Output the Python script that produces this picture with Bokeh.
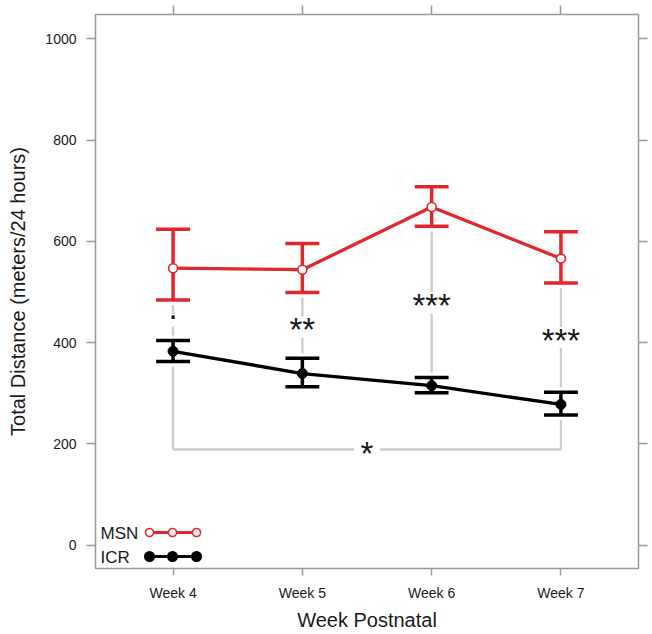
from bokeh.plotting import figure
from bokeh.models import Range1d, LinearAxis, FixedTicker, ColumnDataSource
from bokeh.core.properties import value
from bokeh.embed import file_html
from bokeh.resources import INLINE

# ---- data ----
weeks = ["Week 4", "Week 5", "Week 6", "Week 7"]
week_pos = [1, 2, 3, 4]
msn_mean = [547, 544, 668, 566]
msn_upper = [624, 596, 708, 619]
msn_lower = [484, 499, 630, 518]
icr_mean = [383, 339, 315, 278]
icr_upper = [404, 369, 331, 302]
icr_lower = [363, 313, 301, 257]
sig_labels = [".", "**", "***", "***"]
sig_y = [444, 431, 479, 410]
bracket_y = 189
bracket_label = "*"
y_ticks = [0, 200, 400, 600, 800, 1000]
series_names = ["MSN", "ICR"]

RED = "#e3262b"
BLACK = "#000000"
GRAY = "#cccccc"
FRAME = "#999999"
FONT = "Liberation Sans"
TXT = "#1a1a1a"

p = figure(width=650, height=634, x_range=Range1d(0.4, 4.6), y_range=Range1d(-46, 1048),
           output_backend="svg", toolbar_location=None,
           min_border_left=95, min_border_right=12, min_border_top=14, min_border_bottom=66)
p.xgrid.visible = False
p.ygrid.visible = False
p.outline_line_color = FRAME
p.outline_line_width = 1.5
p.background_fill_color = "white"
p.border_fill_color = "white"

xlabels = {w: t for w, t in zip(week_pos, weeks)}

def style_axis(ax, ticks, show_labels, overrides=None):
    ax.ticker = FixedTicker(ticks=ticks)
    ax.axis_line_color = None
    ax.major_tick_line_color = FRAME
    ax.major_tick_line_width = 1.5
    ax.major_tick_in = 0
    ax.minor_tick_line_color = None
    if show_labels:
        ax.major_label_text_font = FONT
        ax.major_label_text_font_size = "14px"
        ax.major_label_text_color = TXT
        if overrides:
            ax.major_label_overrides = overrides
    else:
        ax.major_label_overrides = {t: "" for t in ticks}
        ax.major_label_text_font_size = "1px"
        ax.major_label_standoff = 0

xa = p.xaxis[0]
style_axis(xa, week_pos, True, xlabels)
xa.major_tick_out = 7
xa.major_label_standoff = 9
xa.axis_label = "Week Postnatal"
xa.axis_label_text_font = FONT
xa.axis_label_text_font_size = "20px"
xa.axis_label_text_font_style = "normal"
xa.axis_label_text_color = TXT
xa.axis_label_standoff = 5

ya = p.yaxis[0]
style_axis(ya, y_ticks, True)
ya.major_tick_out = 9
ya.major_label_standoff = 10
ya.axis_label = "Total Distance (meters/24 hours)"
ya.axis_label_text_font = FONT
ya.axis_label_text_font_size = "20px"
ya.axis_label_text_font_style = "normal"
ya.axis_label_text_color = TXT
ya.axis_label_standoff = 13

top = LinearAxis()
style_axis(top, week_pos, False)
top.major_tick_out = 9
p.add_layout(top, "above")
right = LinearAxis()
style_axis(right, y_ticks, False)
right.major_tick_out = 9
p.add_layout(right, "right")

CAP = 0.131
src = ColumnDataSource(dict(
    x=week_pos,
    xl=[x - CAP for x in week_pos], xr=[x + CAP for x in week_pos],
    mm=msn_mean, mu=msn_upper, ml=msn_lower,
    im=icr_mean, iu=icr_upper, il=icr_lower,
))

# ---- significance lines (gray) ----
GAP = 10
half = [12 if s == "." else 21 for s in sig_labels]
label_offset = [-13 if s == "." else 3 for s in sig_labels]
sig_src = ColumnDataSource(dict(
    x=week_pos,
    top0=[m - GAP for m in msn_lower], top1=[s + h for s, h in zip(sig_y, half)],
    bot0=[s - h for s, h in zip(sig_y, half)], bot1=[u + GAP for u in icr_upper],
    y=sig_y, lab=sig_labels, yoff=label_offset,
))
p.segment(x0="x", y0="top0", x1="x", y1="top1", source=sig_src, line_color=GRAY, line_width=2.3)
p.segment(x0="x", y0="bot0", x1="x", y1="bot1", source=sig_src, line_color=GRAY, line_width=2.3)

# bracket between week 4 and week 7
x_first, x_last = week_pos[0], week_pos[-1]
x_mid = (x_first + x_last) / 2
bgap = 0.1
p.segment(x0=[x_first, x_last, x_first, x_mid + bgap],
          y0=[icr_lower[0] - GAP, icr_lower[-1] - GAP, bracket_y, bracket_y],
          x1=[x_first, x_last, x_mid - bgap, x_last],
          y1=[bracket_y, bracket_y, bracket_y, bracket_y],
          line_color=GRAY, line_width=2.3)

p.text(x="x", y="y", text="lab", source=sig_src, text_font=value(FONT), text_font_size="33px",
       text_align="center", text_baseline="alphabetic", y_offset="yoff", text_color=TXT)
p.text(x=[x_mid], y=[bracket_y], text=[bracket_label], text_font=value(FONT), text_font_size="33px",
       text_align="center", text_baseline="alphabetic", y_offset=4, text_color=TXT)

# ---- ICR (black) ----
p.segment(x0="x", y0="il", x1="x", y1="iu", source=src, line_color=BLACK, line_width=3.5)
p.segment(x0="xl", y0="iu", x1="xr", y1="iu", source=src, line_color=BLACK, line_width=3.5)
p.segment(x0="xl", y0="il", x1="xr", y1="il", source=src, line_color=BLACK, line_width=3.5)
p.line(x="x", y="im", source=src, line_color=BLACK, line_width=3.3)
p.scatter(x="x", y="im", source=src, marker="circle", size=10, fill_color=BLACK, line_color=BLACK)

# ---- MSN (red) ----
p.segment(x0="x", y0="ml", x1="x", y1="mu", source=src, line_color=RED, line_width=3.5)
p.segment(x0="xl", y0="mu", x1="xr", y1="mu", source=src, line_color=RED, line_width=3.5)
p.segment(x0="xl", y0="ml", x1="xr", y1="ml", source=src, line_color=RED, line_width=3.5)
p.line(x="x", y="mm", source=src, line_color=RED, line_width=3.3)
p.scatter(x="x", y="mm", source=src, marker="circle", size=9, fill_color="white",
          line_color=RED, line_width=1.6)

# ---- legend (frame pixel coordinates) ----
p.extra_x_ranges = {"px": Range1d(0, 543)}
p.extra_y_ranges = {"py": Range1d(0, 554)}
leg_x = [54, 77, 101]
leg_y = [36, 12]
leg_colors = [RED, BLACK]
leg_fill = ["white", BLACK]
leg_size = [8, 9.5]
for name, yy, c, f, s in zip(series_names, leg_y, leg_colors, leg_fill, leg_size):
    p.line(x=leg_x, y=[yy] * 3, x_range_name="px", y_range_name="py", line_color=c, line_width=3)
    p.scatter(x=leg_x, y=[yy] * 3, x_range_name="px", y_range_name="py", marker="circle",
              size=s, fill_color=f, line_color=c, line_width=1.6)
    p.text(x=[5], y=[yy - 1], text=[name], x_range_name="px", y_range_name="py",
           text_font=value(FONT), text_font_size="17px", text_align="left",
           text_baseline="alphabetic", text_color=TXT)

open("out.html", "w").write(file_html(p, INLINE))
